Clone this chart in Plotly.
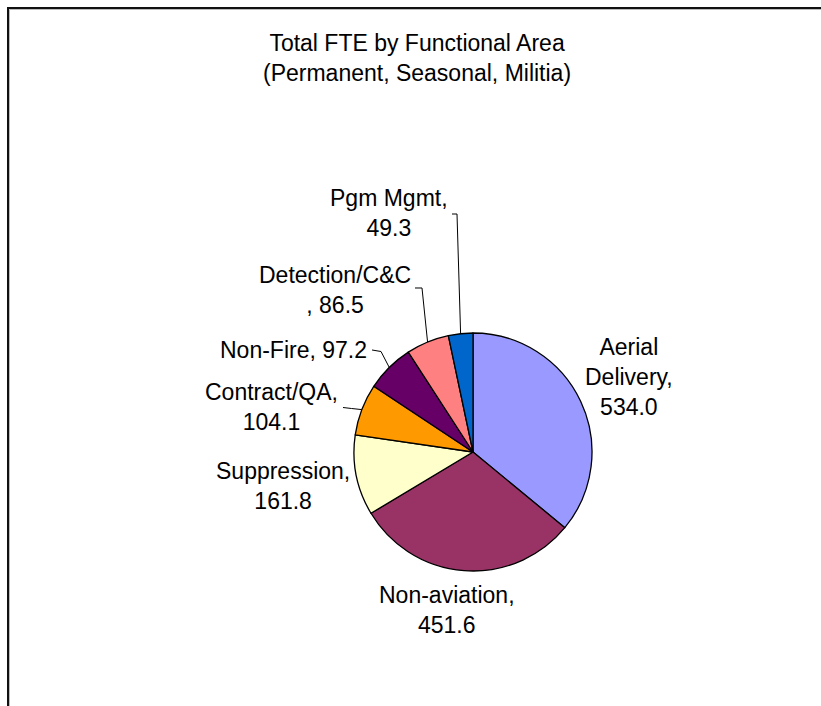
import math
import plotly.graph_objects as go

# Full-time equivalents by functional area
categories = ["Aerial Delivery", "Non-aviation", "Suppression", "Contract/QA",
              "Non-Fire", "Detection/C&C", "Pgm Mgmt"]
fte = [534.0, 451.6, 161.8, 104.1, 97.2, 86.5, 49.3]
colors = ["#9999FF", "#993366", "#FFFFCC", "#FF9900", "#660066", "#FF8080", "#0066CC"]

# How each data label is broken across lines
label_names = ["Aerial<br>Delivery", "Non-aviation", "Suppression", "Contract/QA",
               "Non-Fire", "Detection/C&C", "Pgm Mgmt"]
label_seps = [",<br>", ",<br>", ",<br>", ",<br>", ", ", "<br>, ", ",<br>"]

W, H = 821, 706
FONT = "Liberation Sans, Arial, Helvetica, sans-serif"
FS = 23

# Pie placement in pixels
PIE_CX, PIE_CY, PIE_R = 473, 452, 119

# Label block centres (px) and leader elbows (px, None = no leader)
label_pos = [(629, 377), (447, 610), (283, 486), (271, 407),
             (293, 350), (335, 290), (389, 213)]
leader_start = [None, None, None, [(343, 407.5), (351.5, 408.5)],
                [(372, 350), (381, 351.5)], [(415, 288), (422, 288)],
                [(452, 214), (457, 214)]]


def px(x):
    return x / W


def py(y):
    return 1 - y / H


fig = go.Figure(go.Pie(
    labels=categories,
    values=fte,
    sort=False,
    direction="clockwise",
    rotation=0,
    textinfo="none",
    hoverinfo="label+value",
    showlegend=False,
    marker=dict(colors=colors, line=dict(color="black", width=1.3)),
    domain=dict(x=[px(PIE_CX - PIE_R), px(PIE_CX + PIE_R)],
                y=[py(PIE_CY + PIE_R), py(PIE_CY - PIE_R)]),
))

annotations = [dict(
    text="Total FTE by Functional Area<br>(Permanent, Seasonal, Militia)",
    x=px(417), y=py(58), xref="paper", yref="paper",
    xanchor="center", yanchor="middle", showarrow=False,
    font=dict(family=FONT, size=FS, color="black"),
)]

shapes = []
total = sum(fte)
cum = 0.0
for i, v in enumerate(fte):
    mid = (cum + v / 2) / total * 2 * math.pi
    cum += v
    lx, ly = label_pos[i]
    annotations.append(dict(
        text=f"{label_names[i]}{label_seps[i]}{v:.1f}",
        x=px(lx), y=py(ly), xref="paper", yref="paper",
        xanchor="center", yanchor="middle", align="center", showarrow=False,
        font=dict(family=FONT, size=FS, color="black"),
    ))
    if leader_start[i]:
        ex = PIE_CX + PIE_R * math.sin(mid)
        ey = PIE_CY - PIE_R * math.cos(mid)
        pts = leader_start[i] + [(ex, ey)]
        path = "M " + " L ".join(f"{px(a):.5f},{py(b):.5f}" for a, b in pts)
        shapes.append(dict(type="path", path=path, xref="paper", yref="paper",
                           line=dict(color="black", width=1)))

# Chart-area frame along the top and left edges
shapes.append(dict(type="path",
                   path=f"M {px(9.5):.5f},{py(H + 2):.5f} L {px(9.5):.5f},{py(9.5):.5f} L {px(W + 2):.5f},{py(9.5):.5f}",
                   xref="paper", yref="paper", line=dict(color="#BBBBBB", width=1)))
shapes.append(dict(type="path",
                   path=f"M {px(8):.5f},{py(H + 2):.5f} L {px(8):.5f},{py(8):.5f} L {px(W + 2):.5f},{py(8):.5f}",
                   xref="paper", yref="paper", line=dict(color="#111111", width=2)))

fig.update_layout(
    width=W, height=H,
    margin=dict(l=0, r=0, t=0, b=0),
    paper_bgcolor="white", plot_bgcolor="white",
    annotations=annotations, shapes=shapes,
)

fig.write_html("out.html")
